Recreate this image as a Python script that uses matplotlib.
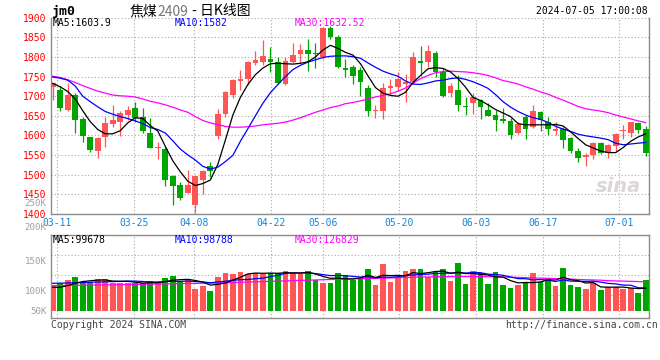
import matplotlib
matplotlib.use('Agg')
import matplotlib.pyplot as plt
import numpy as np

# ---------------- data ----------------
opens = [1723,1717,1666,1703,1642,1595,1561,1597,1629,1634,1652,1669,1646,1605,1569,1565,1497,1474,1454,1421,
         1486,1522,1599,1654,1703,1739,1745,1785,1788,1795,1788,1730,1788,1809,1818,1811,1801,1873,1852,1771,
         1775,1767,1720,1663,1663,1720,1724,1730,1737,1790,1788,1811,1761,1709,1716,1675,1682,1690,1665,1652,
         1641,1637,1607,1648,1621,1660,1635,1611,1616,1593,1560,1546,1550,1580,1554,1573,1610,1607,1631,1616]
highs = [1735,1726,1734,1709,1646,1597,1597,1648,1677,1661,1675,1686,1669,1644,1584,1571,1499,1480,1512,1497,
         1511,1533,1667,1714,1743,1767,1790,1815,1843,1826,1801,1801,1836,1833,1846,1835,1876,1880,1857,1796,
         1779,1775,1728,1677,1735,1745,1761,1758,1812,1829,1830,1815,1771,1733,1754,1697,1707,1693,1683,1665,
         1669,1644,1635,1652,1678,1661,1648,1633,1621,1597,1567,1554,1584,1584,1577,1605,1627,1635,1635,1624]
lows = [1690,1663,1663,1605,1584,1557,1541,1570,1622,1599,1639,1635,1605,1569,1539,1472,1421,1435,1452,1402,
        1450,1493,1590,1648,1696,1716,1728,1779,1781,1762,1730,1728,1784,1784,1765,1771,1795,1847,1771,1748,
        1731,1700,1650,1645,1641,1706,1714,1686,1733,1751,1775,1750,1699,1699,1663,1652,1655,1641,1650,1610,
        1631,1590,1604,1590,1618,1610,1601,1601,1569,1556,1533,1523,1539,1553,1542,1560,1591,1595,1605,1548]
closes = [1733,1669,1703,1638,1599,1563,1593,1631,1639,1656,1666,1645,1610,1569,1570,1486,1472,1441,1474,1495,
          1509,1510,1655,1711,1741,1745,1788,1792,1802,1788,1734,1790,1805,1819,1809,1808,1873,1852,1775,1768,
          1752,1737,1663,1665,1720,1726,1743,1736,1801,1785,1815,1761,1700,1726,1678,1672,1697,1672,1650,1638,
          1637,1601,1629,1616,1661,1639,1616,1617,1587,1559,1543,1550,1580,1554,1576,1604,1614,1633,1614,1556]
ma5 = [1733,1724,1712,1693,1663,1635,1615,1604,1604,1612,1632,1645,1643,1625,1611,1572,1535,1507,1483,1472,
       1477,1486,1526,1588,1652,1697,1730,1755,1772,1783,1784,1783,1782,1784,1788,1800,1818,1830,1822,1812,
       1805,1783,1752,1722,1708,1702,1700,1710,1735,1753,1770,1773,1771,1762,1745,1723,1697,1689,1678,1666,
       1657,1648,1630,1627,1627,1627,1627,1628,1624,1609,1592,1576,1568,1560,1556,1556,1569,1585,1596,1603.9]
ma10 = [1749,1746,1741,1726,1700,1686,1673,1661,1654,1648,1643,1637,1630,1620,1615,1606,1586,1565,1550,1537,
        1521,1514,1519,1533,1549,1585,1617,1650,1682,1709,1730,1750,1768,1779,1787,1793,1799,1802,1803,1803,
        1801,1797,1785,1774,1764,1757,1751,1739,1731,1730,1734,1739,1741,1745,1747,1743,1737,1729,1720,1704,
        1686,1672,1661,1652,1645,1641,1633,1623,1616,1610,1603,1599,1596,1593,1589,1580,1576,1578,1580,1582]
ma30 = [1751,1748,1742,1735,1727,1720,1713,1708,1703,1701,1700,1698,1693,1687,1683,1678,1672,1665,1659,1648,
        1638,1632,1627,1623,1621,1621,1622,1624,1627,1629,1631,1634,1639,1645,1652,1659,1665,1671,1675,1681,
        1684,1688,1693,1698,1702,1706,1713,1721,1733,1745,1753,1760,1763,1764,1763,1762,1760,1757,1753,1747,
        1740,1736,1731,1724,1718,1711,1705,1697,1690,1682,1674,1668,1665,1662,1658,1652,1647,1642,1637,1632.52]

# volume in thousands of lots
volumes = [108.8,123.1,134.9,149.2,124.8,124.8,139.2,139.2,123.1,120.5,123.1,120.5,120.5,130.5,120.5,144.9,153.6,130.5,139.2,95.7,
           110.1,87.0,149.2,166.6,159.6,171.0,161.0,166.6,161.0,164.0,166.6,174.0,164.0,159.6,174.0,134.9,120.5,123.1,164.0,155.3,
           134.9,142.2,182.7,113.1,204.5,127.5,146.6,174.0,182.7,182.7,146.6,174.0,182.7,131.8,210.1,117.5,174.0,164.0,117.5,168.3,
           113.1,98.7,113.1,127.5,165.3,127.5,144.9,108.8,187.1,113.1,104.4,95.7,120.5,91.4,105.7,105.7,95.7,101.4,79.6,134.9]
vol_ma5 = [103.1,103.1,110.9,120.5,128.3,131.4,134.4,135.3,130.1,129.2,129.2,125.3,121.4,123.1,123.1,127.5,134.0,136.2,137.9,132.7,
           125.7,112.7,116.1,121.8,134.4,146.6,161.4,164.9,164.0,164.9,164.0,166.6,165.7,165.7,167.5,161.4,150.5,142.2,143.1,139.6,
           139.6,144.0,155.7,145.7,155.3,154.0,154.9,153.1,167.0,162.7,166.6,171.8,173.6,163.6,169.2,163.1,163.1,159.6,156.6,148.3,
           147.5,132.2,122.2,124.0,123.5,126.6,135.7,134.9,146.6,136.2,131.8,121.8,124.0,104.8,103.5,104.0,104.0,100.0,97.4,99.678]
vol_ma10 = [120.5,121.0,122.0,123.0,124.0,125.0,126.0,127.0,128.0,128.8,130.1,130.1,128.3,126.6,126.2,128.3,129.6,128.8,130.5,127.9,
            126.6,123.1,126.2,129.6,133.5,136.2,137.0,140.5,142.7,149.6,155.3,164.0,165.3,164.9,166.2,162.7,158.3,154.0,154.4,153.6,
            150.5,147.5,149.2,144.4,147.5,146.6,149.2,154.4,156.2,159.2,160.1,163.6,163.6,165.3,165.7,164.9,167.5,166.6,160.1,158.8,
            155.3,147.9,140.9,140.5,135.7,137.0,134.0,128.3,135.3,130.1,129.2,128.8,129.6,125.7,120.1,117.9,112.7,112.2,101.4,98.788]
vol_ma30 = [110,111,111,112,112,113,113,114,114,115,115,116,116,117,117,118,118,119,120,120,
            121,121,122,123,124,125,126,127,128,129,130,131,132,133,134,135,136,137,138,139,
            140,141,142,142,143,144,145,146,147,148,148,149,149,150,150,150,150,150,149,149,
            148,147,146,145,144,143,142,141,140,139,137,136,135,134,132,131,130,129,128,126.829]

date_ticks = [0.61, 10.87, 18.8, 29.04, 36.0, 46.1, 56.35, 65.3, 75.5]
date_labels = ['03-11', '03-25', '04-08', '04-22', '05-06', '05-20', '06-03', '06-17', '07-01']
price_ticks = [1400, 1450, 1500, 1550, 1600, 1650, 1700, 1750, 1800, 1850, 1900]
vol_labels = ['250K', '200K', '150K', '100K', '50K']

# ---------------- styling ----------------
UP = '#FF5555'
DOWN = '#00A600'
GRID = '#A8A8A8'
FRAME = '#8C8C8C'
MONO = 'DejaVu Sans Mono'
CJK = ['Noto Sans CJK SC', 'DejaVu Sans']

W, H = 660, 360
fig = plt.figure(figsize=(6.6, 3.6), dpi=100)
fig.patch.set_facecolor('white')


def fx(px):
    return px / W


def fy(py):
    return 1 - py / H


L, R = 50.7, 649.0
ax = fig.add_axes([fx(L), fy(213.7), (R - L) / W, (213.7 - 17.9) / H])
axv = fig.add_axes([fx(L), fy(318.0), (R - L) / W, (318.0 - 235.3) / H])

n = len(closes)
x = np.arange(n)
o = np.array(opens, float)
c = np.array(closes, float)
hi = np.array(highs, float)
lo = np.array(lows, float)
up = c >= o
cols = np.where(up, UP, DOWN)

for a in (ax, axv):
    a.set_xlim(-0.27, 79.44)
    a.set_xticks(date_ticks)
    a.grid(axis='x', color=GRID, linestyle=(0, (1, 2)), linewidth=0.8)
    a.set_axisbelow(True)
    for s in ('left', 'right', 'bottom', 'top'):
        a.spines[s].set_color(FRAME)
        a.spines[s].set_linewidth(1.0)

ax.set_ylim(1400, 1900)
ax.set_yticks(price_ticks)
ax.grid(axis='y', color=GRID, linestyle=(0, (1, 2)), linewidth=0.8)
ax.spines['top'].set_visible(False)
ax.tick_params(axis='y', length=0, pad=3, labelcolor='#FF0000', labelsize=7)
ax.tick_params(axis='x', length=0, pad=3, labelcolor='#1384D4', labelsize=7)
ax.set_xticklabels(date_labels, fontfamily=MONO)
for t in ax.get_yticklabels():
    t.set_fontfamily(MONO)

# candles
ax.vlines(x, lo, hi, colors=cols, linewidth=0.9, zorder=3)
body_h = np.maximum(np.abs(c - o), 2.5)
ax.bar(x, body_h, bottom=np.minimum(o, c), width=0.76, color=cols, linewidth=0, zorder=4)

ax.plot(x, ma30, color='#FF00FF', linewidth=0.9, zorder=5)
ax.plot(x, ma10, color='#0000FF', linewidth=0.9, zorder=5)
ax.plot(x, ma5, color='#000000', linewidth=0.9, zorder=5)

# volume panel
vol = np.array(volumes) * 1000
axv.set_ylim(-30450, 329300)
axv.set_yticks([])
axv.set_xticklabels([])
axv.tick_params(axis='x', length=0)
for f in (0.758, 0.516, 0.274):
    axv.plot([0, 1], [f, f], transform=axv.transAxes, color=GRID,
             linestyle=(0, (1, 2)), linewidth=0.8, zorder=0)
axv.bar(x, vol, width=0.76, color=cols, linewidth=0, zorder=3)
axv.plot(x, np.array(vol_ma30) * 1000, color='#FF00FF', linewidth=0.9, zorder=5)
axv.plot(x, np.array(vol_ma10) * 1000, color='#0000FF', linewidth=0.9, zorder=5)
axv.plot(x, np.array(vol_ma5) * 1000, color='#000000', linewidth=0.9, zorder=5)

# header texts
fs = 7
fig.text(fx(51), fy(11), 'jm0', fontsize=9.5, fontweight='bold', family=MONO,
         va='center', ha='left', color='black')

renderer = fig.canvas.get_renderer()
xpos = 130.0
for part, colr in (('焦煤', 'black'), ('2409', '#777777'), (' - 日K线图', 'black')):
    t = fig.text(fx(xpos), fy(11.5), part, fontsize=10, family=CJK,
                 va='center', ha='left', color=colr)
    bb = t.get_window_extent(renderer=renderer)
    xpos += bb.width

fig.text(fx(648), fy(11.5), '2024-07-05 17:00:08', fontsize=fs, family=MONO,
         va='center', ha='right', color='black')

fig.text(fx(53), fy(23), f'MA5:{ma5[-1]:.1f}', fontsize=fs, family=MONO, va='center', color='black')
fig.text(fx(175), fy(23), f'MA10:{ma10[-1]:.0f}', fontsize=fs, family=MONO, va='center', color='#0000FF')
fig.text(fx(295), fy(23), f'MA30:{ma30[-1]:.2f}', fontsize=fs, family=MONO, va='center', color='#FF00FF')

fig.text(fx(53), fy(240), f'MA5:{vol_ma5[-1]*1000:.0f}', fontsize=fs, family=MONO, va='center', color='black')
fig.text(fx(175), fy(240), f'MA10:{vol_ma10[-1]*1000:.0f}', fontsize=fs, family=MONO, va='center', color='#0000FF')
fig.text(fx(295), fy(240), f'MA30:{vol_ma30[-1]*1000:.0f}', fontsize=fs, family=MONO, va='center', color='#FF00FF')

for lab, py in zip(vol_labels, [203.5, 227.7, 261, 291, 311]):
    fig.text(fx(46.5), fy(py), lab, fontsize=6.6, family=MONO, va='center', ha='right', color='#A0A0A0')

fig.text(fx(51), fy(325.5), 'Copyright 2024 SINA.COM', fontsize=fs, family=MONO,
         va='center', ha='left', color='#444444')
fig.text(fx(658), fy(325.5), 'http://finance.sina.com.cn', fontsize=fs, family=MONO,
         va='center', ha='right', color='#444444')

# watermark
fig.text(fx(618), fy(186), 'sina', fontsize=14, fontweight='bold', fontstyle='italic',
         family='DejaVu Sans', va='center', ha='center', color='#D9D2D2', alpha=0.9)

fig.savefig('out.png', dpi=100, facecolor='white')
